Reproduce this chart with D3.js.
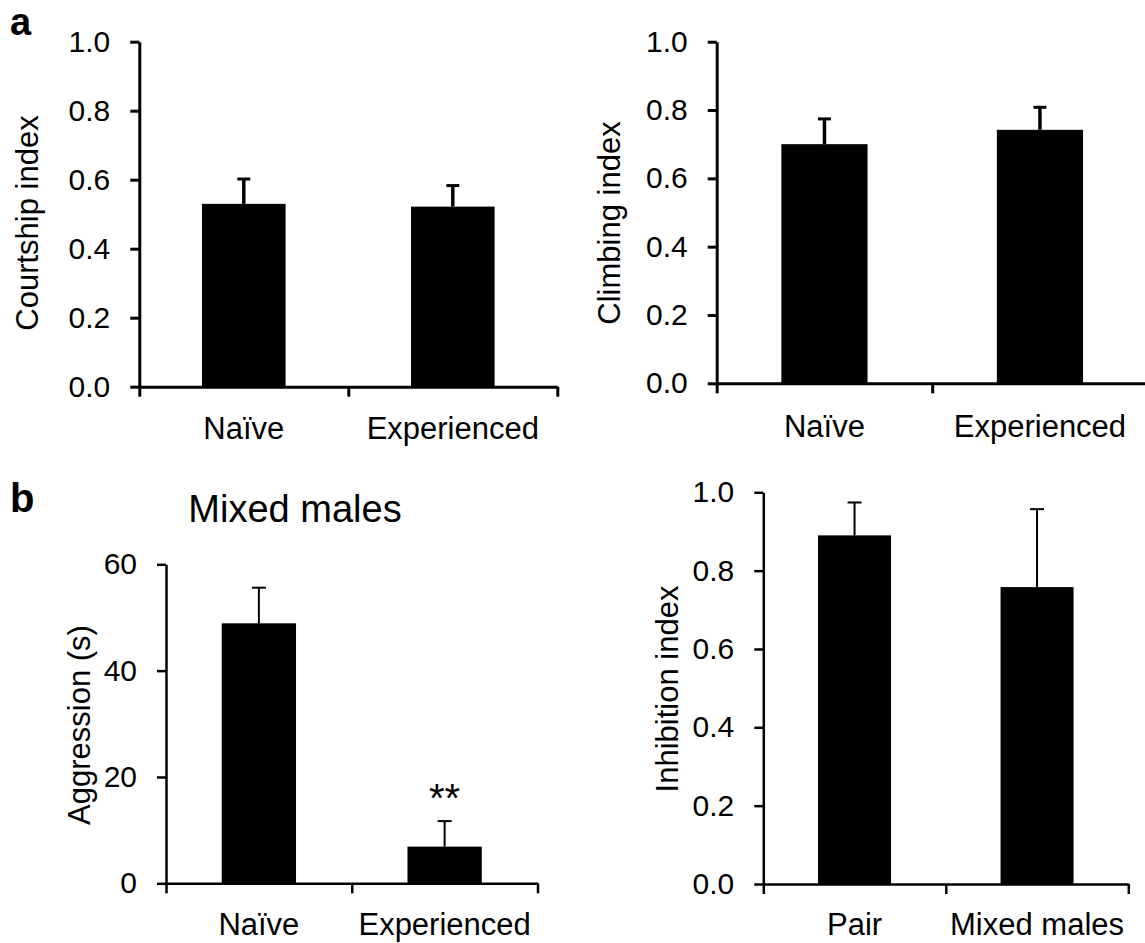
<!DOCTYPE html>
<html>
<head>
<meta charset="utf-8">
<script src="https://cdn.jsdelivr.net/npm/d3@7"></script>
<style>
  body { margin: 0; background: #fff; }
  svg text { font-family: "Liberation Sans", Arial, sans-serif; fill: #000; }
</style>
</head>
<body>
<svg id="fig" width="1145" height="943"></svg>
<script>
// data
const groupCats = ["Naïve", "Experienced"];
const courtshipMean = [0.53, 0.522];
const courtshipErr = [0.072, 0.061];
const climbingMean = [0.70, 0.742];
const climbingErr = [0.074, 0.066];
const aggressionMean = [48.9, 6.9];
const aggressionErr = [6.7, 4.8];
const inhibitionCats = ["Pair", "Mixed males"];
const inhibitionMean = [0.89, 0.758];
const inhibitionErr = [0.084, 0.199];
const indexTicks = [0, 0.2, 0.4, 0.6, 0.8, 1.0];
const aggressionTicks = [0, 20, 40, 60];

const svg = d3.select("#fig");

// panel placement (pixel frame for each sub-chart)
const panels = [
    {x0: 139.3, yTop: 41.7, yBot: 386.7, w: 418, cats: groupCats, mean: courtshipMean, err: courtshipErr,
     max: 1, ticks: indexTicks, fmt: d3.format(".1f"), title: "Courtship index", titleX: 38, titleY: 223,
     labelY: 439, heavy: true},
    {x0: 716.7, yTop: 41.7, yBot: 383.3, w: 431, cats: groupCats, mean: climbingMean, err: climbingErr,
     max: 1, ticks: indexTicks, fmt: d3.format(".1f"), title: "Climbing index", titleX: 620, titleY: 223,
     labelY: 437, heavy: true},
    {x0: 166, yTop: 564.3, yBot: 883.3, w: 371.5, cats: groupCats, mean: aggressionMean, err: aggressionErr,
     max: 60, ticks: aggressionTicks, fmt: d3.format("d"), title: "Aggression (s)", titleX: 90, titleY: 725,
     labelY: 935, heavy: false, stars: ["", "**"]},
    {x0: 763.3, yTop: 492.3, yBot: 884, w: 365, cats: inhibitionCats, mean: inhibitionMean, err: inhibitionErr,
     max: 1, ticks: indexTicks, fmt: d3.format(".1f"), title: "Inhibition index", titleX: 678, titleY: 689,
     labelY: 935, heavy: false}
];

panels.forEach(p => {
    const g = svg.append("g");
    const y = d3.scaleLinear().domain([0, p.max]).range([p.yBot, p.yTop]);
    const xb = d3.scaleBand().domain(p.cats).range([p.x0, p.x0 + p.w]).paddingInner(0.6).paddingOuter(0.3);
    const xl = d3.scaleLinear().domain([0, p.cats.length]).range([p.x0, p.x0 + p.w]);
    const axisW = p.heavy ? 3 : 2.5;

    // bars
    g.selectAll("rect.bar")
        .data(p.cats)
        .join("rect")
        .attr("class", "bar")
        .attr("x", d => xb(d))
        .attr("width", xb.bandwidth())
        .attr("y", (d, i) => y(p.mean[i]))
        .attr("height", (d, i) => p.yBot - y(p.mean[i]))
        .attr("fill", "#000");

    // error bars (upper only)
    const stemW = p.heavy ? 3.5 : 2;
    const capW = p.heavy ? 13 : 14;
    p.cats.forEach((c, i) => {
        const cx = xb(c) + xb.bandwidth() / 2;
        g.append("line")
            .attr("x1", cx).attr("x2", cx)
            .attr("y1", y(p.mean[i])).attr("y2", y(p.mean[i] + p.err[i]))
            .attr("stroke", "#000").attr("stroke-width", stemW);
        g.append("line")
            .attr("x1", cx - capW / 2).attr("x2", cx + capW / 2)
            .attr("y1", y(p.mean[i] + p.err[i])).attr("y2", y(p.mean[i] + p.err[i]))
            .attr("stroke", "#000").attr("stroke-width", p.heavy ? 3 : 2);
    });

    // y axis
    const ya = g.append("g")
        .attr("transform", `translate(${p.x0},0)`)
        .call(d3.axisLeft(y).tickValues(p.ticks).tickFormat(p.fmt).tickSize(9).tickSizeOuter(0).tickPadding(20));
    ya.select(".domain").attr("stroke-width", axisW);
    ya.selectAll(".tick line").attr("stroke-width", axisW);
    ya.selectAll(".tick text").attr("font-size", 30).attr("font-family", "Liberation Sans, Arial, sans-serif");

    // x axis, ticks at group boundaries
    const xa = g.append("g")
        .attr("transform", `translate(0,${p.yBot})`)
        .call(d3.axisBottom(xl).tickValues(d3.range(p.cats.length + 1)).tickFormat("").tickSize(10).tickSizeOuter(0));
    xa.select(".domain").attr("stroke-width", axisW);
    xa.selectAll(".tick line").attr("stroke-width", axisW);

    // category labels
    g.selectAll("text.cat")
        .data(p.cats)
        .join("text")
        .attr("class", "cat")
        .attr("x", d => xb(d) + xb.bandwidth() / 2)
        .attr("y", p.labelY)
        .attr("text-anchor", "middle")
        .attr("font-size", 31)
        .text(d => d);

    // y title
    g.append("text")
        .attr("transform", `translate(${p.titleX},${p.titleY}) rotate(-90)`)
        .attr("text-anchor", "middle")
        .attr("font-size", 31)
        .text(p.title);

    if (p.stars) {
        g.selectAll("text.star")
            .data(p.cats)
            .join("text")
            .attr("class", "star")
            .attr("x", d => xb(d) + xb.bandwidth() / 2)
            .attr("y", (d, i) => y(p.mean[i] + p.err[i]) - 9)
            .attr("text-anchor", "middle")
            .attr("font-size", 40)
            .text((d, i) => p.stars[i]);
    }
});

// panel letters and heading
svg.append("text").attr("x", 10).attr("y", 35).attr("font-size", 38).attr("font-weight", "bold").text("a");
svg.append("text").attr("x", 10).attr("y", 512).attr("font-size", 40).attr("font-weight", "bold").text("b");
svg.append("text").attr("x", 295).attr("y", 521.7).attr("text-anchor", "middle").attr("font-size", 38).text("Mixed males");
</script>
</body>
</html>
